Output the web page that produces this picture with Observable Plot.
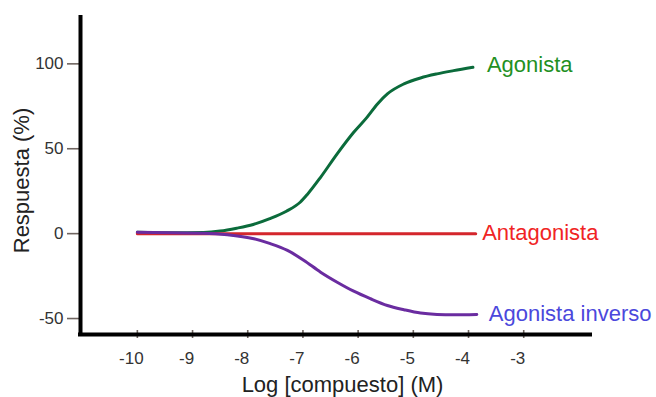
<!DOCTYPE html>
<html>
<head>
<meta charset="utf-8">
<script src="https://cdn.jsdelivr.net/npm/d3@7"></script>
<script src="https://cdn.jsdelivr.net/npm/@observablehq/plot@0.6"></script>
<style>
  html, body { margin: 0; padding: 0; background: #fff; }
</style>
</head>
<body>
<div id="chart"></div>
<script>
// ---- Data ----
const seriesNames = ["Agonista", "Antagonista", "Agonista inverso"];

const agonistLogConc = [-10, -9.4, -8.8, -8.5, -8.2, -7.9, -7.6, -7.3, -7.05, -6.92, -6.68, -6.38, -6.08, -5.84, -5.65, -5.47, -5.17, -4.87, -4.57, -4.27, -3.92];
const agonistResp    = [0.8, 0.5, 0.7, 1.5, 3.2, 5.4, 8.8, 13.2, 18.5, 23.1, 33.2, 47.0, 59.7, 68.5, 76.4, 82.3, 88.2, 91.7, 94.1, 96.0, 98.0];

const antagonistLogConc = [-10, -3.87];
const antagonistResp    = [0, 0];

const inverseLogConc = [-10, -9.4, -8.8, -8.37, -7.89, -7.59, -7.28, -6.98, -6.68, -6.38, -6.08, -5.78, -5.47, -5.17, -4.87, -4.57, -4.27, -3.85];
const inverseResp    = [0.8, 0.5, 0.3, -0.6, -3.0, -5.9, -9.9, -15.8, -22.7, -28.6, -33.9, -38.3, -42.3, -44.8, -46.8, -47.6, -47.8, -47.6];

const xTicks = [-10, -9, -8, -7, -6, -5, -4, -3];
const yTicks = [-50, 0, 50, 100];

const lineColors  = ["#0b6b3b", "#d4262c", "#6a2ca0"];
const labelColors = ["#23901f", "#f02424", "#4b48dc"];

// ---- Build table ----
const rows = [
  ...agonistLogConc.map((x, i) => ({x, y: agonistResp[i], s: seriesNames[0]})),
  ...antagonistLogConc.map((x, i) => ({x, y: antagonistResp[i], s: seriesNames[1]})),
  ...inverseLogConc.map((x, i) => ({x, y: inverseResp[i], s: seriesNames[2]}))
];

const xDomain = [-11.03, -1.79];
const yDomain = [-59.4, 127.3];
const fmt = d => String(d);
const font = "'Liberation Sans', Arial, Helvetica, sans-serif";

const labelOffsets = {
  "Agonista": {dx: 14, dy: -2.2},
  "Antagonista": {dx: 6.5, dy: -1},
  "Agonista inverso": {dx: 12, dy: -1}
};

const chart = Plot.plot({
  width: 656,
  height: 397,
  marginLeft: 80,
  marginRight: 66,
  marginTop: 17,
  marginBottom: 63,
  style: {fontFamily: font, background: "#fff", overflow: "visible"},
  x: {domain: xDomain, label: null},
  y: {domain: yDomain, label: null},
  color: {domain: seriesNames, range: lineColors},
  marks: [
    // y axis ticks + labels
    Plot.axisY({ticks: yTicks, tickSize: 13, tickPadding: 4, tickFormat: fmt, label: null,
                fontSize: 17, stroke: "#6f6560", strokeWidth: 1.6, fill: "#333"}),
    // x axis tick marks (crossing the axis line)
    Plot.axisX({ticks: xTicks, tickSize: 8, dy: -4, tickFormat: () => "", label: null,
                stroke: "#6f6560", strokeWidth: 1.6}),
    // x axis tick labels
    Plot.axisX({ticks: xTicks, tickSize: 0, tickPadding: 17, dx: -6, tickFormat: fmt, label: null,
                fontSize: 17, fill: "#333"}),
    // axis lines
    Plot.ruleX([xDomain[0]], {stroke: "#000", strokeWidth: 4, strokeLinecap: "square"}),
    Plot.ruleY([yDomain[0]], {stroke: "#000", strokeWidth: 4, strokeLinecap: "square"}),
    // curves
    Plot.line(rows, {x: "x", y: "y", z: "s", stroke: "s", strokeWidth: 3, curve: "monotone-x"}),
    // series labels
    ...seriesNames.map((name, i) =>
      Plot.text(rows.filter(r => r.s === name), Plot.selectLast({
        x: "x", y: "y", text: "s", textAnchor: "start", lineAnchor: "middle",
        fontSize: 22, fill: labelColors[i], dx: labelOffsets[name].dx, dy: labelOffsets[name].dy
      }))
    ),
    // axis titles
    Plot.text(["Respuesta (%)"], {text: d => d, frameAnchor: "left", rotate: -90, textAnchor: "middle",
      lineAnchor: "middle", dx: -59, dy: 4.5, fontSize: 22, fill: "#222"}),
    Plot.text(["Log [compuesto] (M)"], {text: d => d, frameAnchor: "bottom", textAnchor: "middle",
      lineAnchor: "middle", dx: 7, dy: 50.7, fontSize: 22, fill: "#222"})
  ]
});

document.getElementById("chart").appendChild(chart);
</script>
</body>
</html>
